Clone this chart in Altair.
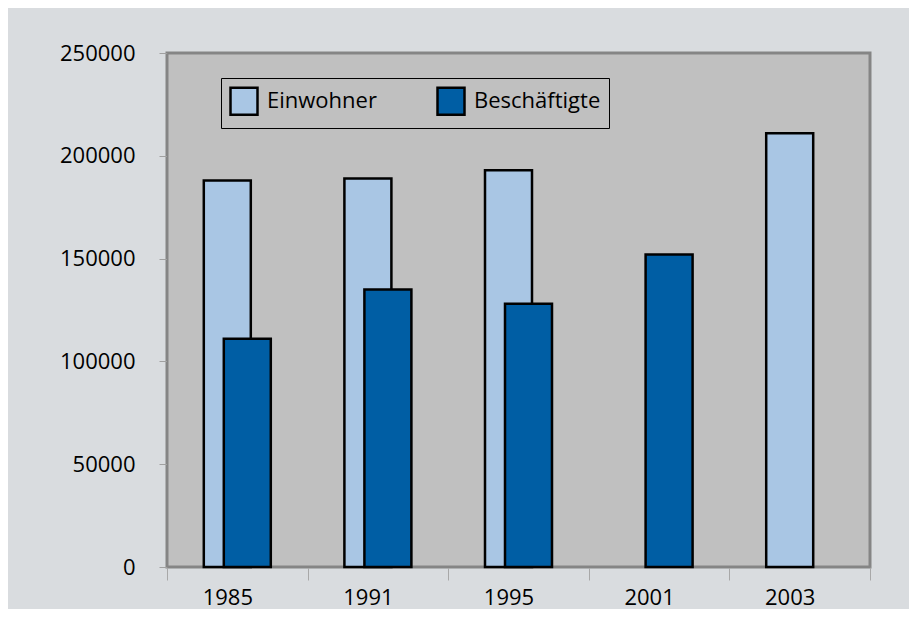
import altair as alt
import pandas as pd

years = ["1985", "1991", "1995", "2001", "2003"]
einwohner = [188000, 189000, 193000, None, 211000]
beschaeftigte = [111000, 135000, 128000, 152000, None]
series_names = ["Einwohner", "Beschäftigte"]
series_colors = ["#a9c6e4", "#005ea4"]
y_ticks = [0, 50000, 100000, 150000, 200000, 250000]

rows = []
for y, e, b in zip(years, einwohner, beschaeftigte):
    if e is not None:
        rows.append({"Jahr": y, "Reihe": "Einwohner", "Wert": e})
    if b is not None:
        rows.append({"Jahr": y, "Reihe": "Beschäftigte", "Wert": b})
df = pd.DataFrame(rows)

FONT = "Open Sans"

x_enc = alt.X(
    "Jahr:N",
    sort=years,
    scale=alt.Scale(domain=years, paddingInner=0, paddingOuter=0),
    axis=alt.Axis(
        title=None,
        labelAngle=0,
        tickBand="extent",
        labelOffset=-10,
        tickSize=13,
        tickColor="#a8a8a8",
        domainColor="#858585",
        labelFontSize=22,
        labelFont=FONT,
        labelColor="black",
        labelPadding=7,
    ),
)
y_enc = alt.Y(
    "Wert:Q",
    scale=alt.Scale(domain=[0, 250000], nice=False),
    axis=alt.Axis(
        title=None,
        values=y_ticks,
        format="d",
        grid=False,
        tickSize=8,
        tickColor="#a0a0a0",
        domainColor="#858585",
        labelFontSize=22,
        labelFont=FONT,
        labelColor="black",
        labelPadding=24,
    ),
)
color_enc = alt.Color(
    "Reihe:N",
    scale=alt.Scale(domain=series_names, range=series_colors),
    legend=alt.Legend(
        title=None,
        orient="none",
        legendX=54,
        legendY=25,
        direction="horizontal",
        padding=8,
        strokeColor="black",
        symbolType="square",
        symbolSize=729,
        symbolStrokeColor="black",
        symbolStrokeWidth=2.5,
        symbolOpacity=1,
        labelFontSize=22,
        labelFont=FONT,
        labelColor="black",
        labelOffset=8,
        columnPadding=55,
    ),
)

base = alt.Chart(df)
bars_e = base.transform_filter(alt.datum.Reihe == "Einwohner").mark_bar(
    width=47, xOffset=-10, stroke="black", strokeWidth=2.5, opacity=1
).encode(x=x_enc, y=y_enc, color=color_enc)
bars_b = base.transform_filter(alt.datum.Reihe == "Beschäftigte").mark_bar(
    width=47, xOffset=10, stroke="black", strokeWidth=2.5, opacity=1
).encode(x=x_enc, y=y_enc, color=color_enc)

chart = (
    alt.layer(bars_e, bars_b)
    .properties(
        width=703,
        height=514,
        background="#d9dcdf",
        autosize=alt.AutoSizeParams(type="none"),
        padding={"left": 159, "top": 45, "right": 39, "bottom": 42},
    )
    .configure_view(fill="#c0c0c0", stroke="#858585", strokeWidth=3)
)

chart.save("out.html", embed_options={"renderer": "svg", "actions": False})
